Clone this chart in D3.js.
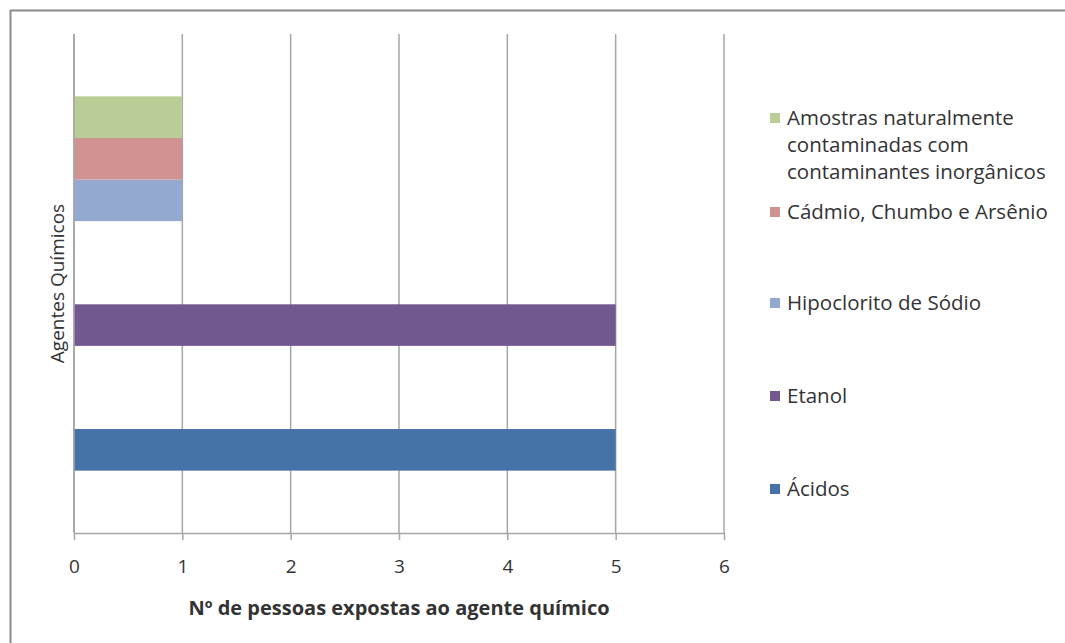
<!DOCTYPE html>
<html>
<head>
<meta charset="utf-8">
<script src="https://cdn.jsdelivr.net/npm/d3@7"></script>
<style>
  body { margin: 0; background: #fff; overflow: hidden; }
  svg text { font-family: "Open Sans", Lato, sans-serif; fill: #333; }
</style>
</head>
<body>
<div id="chart"></div>
<script>
// series, bottom to top
var seriesNames = ["Ácidos", "Etanol", "Hipoclorito de Sódio", "Cádmio, Chumbo e Arsênio",
                   "Amostras naturalmente contaminadas com contaminantes inorgânicos"];
var seriesValues = [5, 5, 1, 1, 1];
var seriesColors = ["#4572A7", "#71588F", "#93A9CF", "#D19392", "#B9CD96"];
var legendLines = [["Ácidos"], ["Etanol"], ["Hipoclorito de Sódio"], ["Cádmio, Chumbo e Arsênio"],
                   ["Amostras naturalmente", "contaminadas com", "contaminantes inorgânicos"]];
var xTicks = [0, 1, 2, 3, 4, 5, 6];
var xTitle = "Nº de pessoas expostas ao agente químico";
var yTitle = "Agentes Químicos";

var width = 1065, height = 643;
var plotLeft = 74, plotRight = 724, plotTop = 34, plotBottom = 533;

// bar slot (lower edge, in bar-heights from the bottom of the plot)
var slots = [1.5, 4.5, 7.5, 8.5, 9.5];
var legendY = [489, 396, 303, 212, 145];

var svg = d3.select("#chart").append("svg")
    .attr("width", width)
    .attr("height", height)
    .style("display", "block");

// chart frame
svg.append("rect")
    .attr("x", 10.5).attr("y", 10.5)
    .attr("width", width + 10).attr("height", height + 10)
    .attr("fill", "none")
    .attr("stroke", "#8a8a8a")
    .attr("stroke-width", 2);

var xScale = d3.scaleLinear().domain([0, 6]).range([plotLeft, plotRight]);
var yScale = d3.scaleLinear().domain([0, 12]).range([plotBottom, plotTop]);

// vertical grid lines
svg.append("g")
    .selectAll("line")
    .data(xTicks)
    .enter()
    .append("line")
        .attr("x1", function(d) { return xScale(d); })
        .attr("x2", function(d) { return xScale(d); })
        .attr("y1", plotTop)
        .attr("y2", plotBottom)
        .attr("stroke", "#a6a6a6")
        .attr("stroke-width", 1.5);

// bars
svg.append("g")
    .selectAll("rect")
    .data(seriesValues)
    .enter()
    .append("rect")
        .attr("x", xScale(0))
        .attr("y", function(d, i) { return yScale(slots[i] + 1); })
        .attr("width", function(d) { return xScale(d) - xScale(0); })
        .attr("height", function(d, i) { return yScale(slots[i]) - yScale(slots[i] + 1); })
        .attr("fill", function(d, i) { return seriesColors[i]; });

// x axis
var xAxis = svg.append("g")
    .attr("transform", "translate(0," + plotBottom + ")")
    .call(d3.axisBottom(xScale).tickValues(xTicks).tickFormat(d3.format("d"))
        .tickSize(7).tickPadding(20).tickSizeOuter(0));
xAxis.select(".domain").attr("stroke", "#a6a6a6").attr("stroke-width", 1.5);
xAxis.selectAll(".tick line").attr("stroke", "#a6a6a6").attr("stroke-width", 1.5);
xAxis.selectAll(".tick text")
    .style("font-family", "'Open Sans', Lato, sans-serif")
    .attr("font-size", 19)
    .attr("fill", "#333");

// y axis line
svg.append("line")
    .attr("x1", xScale(0)).attr("x2", xScale(0))
    .attr("y1", plotTop).attr("y2", plotBottom)
    .attr("stroke", "#a6a6a6")
    .attr("stroke-width", 1.5);

// axis titles
svg.append("text")
    .attr("x", (plotLeft + plotRight) / 2)
    .attr("y", 615)
    .attr("text-anchor", "middle")
    .attr("font-size", 20)
    .attr("font-weight", "bold")
    .text(xTitle);

svg.append("text")
    .attr("transform", "translate(64," + ((plotTop + plotBottom) / 2) + ") rotate(-90)")
    .attr("text-anchor", "middle")
    .attr("font-size", 19)
    .text(yTitle);

// legend
var legend = svg.append("g")
    .selectAll("g")
    .data(seriesNames)
    .enter()
    .append("g")
        .attr("transform", function(d, i) { return "translate(770," + legendY[i] + ")"; });

legend.append("rect")
    .attr("x", 0)
    .attr("y", function(d, i) { return -5 - (legendLines[i].length - 1) / 2 * 27; })
    .attr("width", 10)
    .attr("height", 10)
    .attr("fill", function(d, i) { return seriesColors[i]; });

legend.append("text")
    .attr("font-size", 20.5)
    .selectAll("tspan")
    .data(function(d, i) {
        var lines = legendLines[i];
        return lines.map(function(t, j) { return { t: t, dy: (j - (lines.length - 1) / 2) * 27 + 7 }; });
    })
    .enter()
    .append("tspan")
        .attr("x", 17)
        .attr("y", function(d) { return d.dy; })
        .text(function(d) { return d.t; });
</script>
</body>
</html>
